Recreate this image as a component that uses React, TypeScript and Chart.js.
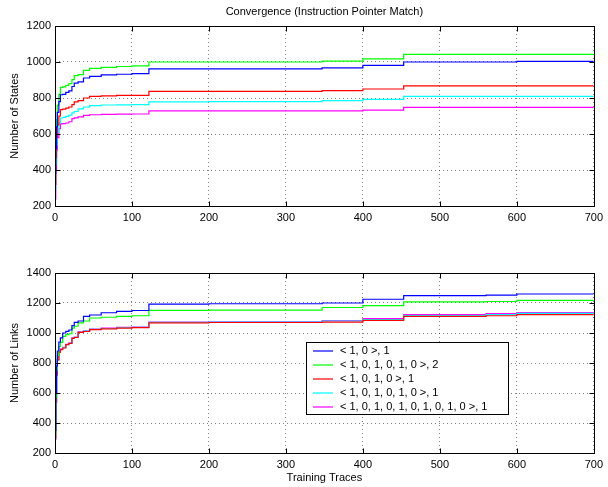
import React, { useEffect, useRef } from "react";
import { Chart, registerables } from "chart.js";
Chart.register(...registerables);

const FONT = "'Liberation Sans', Arial, sans-serif";

const seriesNames = [
  "< 1, 0 >, 1",
  "< 1, 0, 1, 0, 1, 0 >, 2",
  "< 1, 0, 1, 0 >, 1",
  "< 1, 0, 1, 0, 1, 0 >, 1",
  "< 1, 0, 1, 0, 1, 0, 1, 0, 1, 0 >, 1",
];
const seriesColors = ["#0000ff", "#00ff00", "#ff0000", "#00ffff", "#ff00ff"];

const traces = [0, 1, 2, 3, 5, 7, 10, 14, 18, 22, 25, 30, 37, 45, 60, 80, 100, 122, 200, 347, 400, 453, 560, 600, 700];

// Number of States
const statesBlue = [380, 520, 640, 720, 780, 818, 820, 831, 840, 864, 883, 890, 911, 920, 928, 932, 935, 962, 962, 967, 981, 1000, 1000, 1004, 1004];
const statesGreen = [430, 560, 680, 760, 820, 859, 862, 870, 880, 902, 924, 930, 953, 965, 970, 975, 978, 1000, 1000, 1005, 1017, 1042, 1042, 1042, 1042];
const statesRed = [320, 470, 580, 650, 700, 735, 738, 744, 750, 763, 778, 785, 800, 809, 812, 815, 815, 837, 837, 841, 850, 867, 867, 867, 867];
const statesCyan = [290, 430, 540, 610, 660, 689, 692, 698, 705, 717, 725, 740, 750, 758, 761, 762, 763, 779, 780, 785, 792, 809, 809, 809, 809];
const statesMagenta = [240, 400, 510, 580, 630, 656, 658, 661, 668, 685, 690, 695, 703, 707, 709, 710, 711, 729, 729, 729, 733, 748, 748, 748, 748];

// Number of Links
const linksBlue = [350, 600, 780, 880, 940, 967, 1000, 1011, 1020, 1049, 1071, 1080, 1111, 1120, 1135, 1144, 1150, 1193, 1195, 1200, 1225, 1249, 1252, 1260, 1260];
const linksGreen = [330, 570, 750, 850, 910, 938, 978, 989, 995, 1033, 1045, 1067, 1080, 1100, 1105, 1111, 1115, 1151, 1153, 1170, 1182, 1207, 1210, 1218, 1218];
const linksRed = [300, 540, 720, 820, 870, 889, 900, 922, 930, 964, 970, 1004, 1010, 1022, 1028, 1033, 1036, 1068, 1070, 1073, 1084, 1111, 1115, 1122, 1122];
const linksCyan = [300, 540, 720, 820, 870, 890, 902, 923, 931, 965, 971, 1005, 1012, 1024, 1030, 1035, 1038, 1071, 1072, 1080, 1090, 1116, 1122, 1131, 1131];
const linksMagenta = [290, 535, 718, 822, 872, 892, 905, 925, 934, 967, 973, 1007, 1014, 1026, 1032, 1037, 1040, 1072, 1074, 1082, 1096, 1122, 1130, 1136, 1136];

const xTicksMax = 700;

function makeDatasets(values: number[][]) {
  return values.map((v, i) => ({
    label: seriesNames[i],
    data: traces.map((x, j) => ({ x, y: v[j] })),
    borderColor: seriesColors[i],
    backgroundColor: seriesColors[i],
    borderWidth: 1.2,
    pointRadius: 0,
    stepped: true as const,
    tension: 0,
  }));
}

function framePlugin(opts: { title?: string; ylabel: string; xlabel?: string; legend?: boolean }) {
  return {
    id: "frame",
    afterDraw(chart: any) {
      const ctx = chart.ctx;
      const a = chart.chartArea;
      const xs = chart.scales.x;
      const ys = chart.scales.y;
      ctx.save();
      ctx.strokeStyle = "#000";
      ctx.lineWidth = 1;
      ctx.setLineDash([]);
      const L = Math.round(a.left) + 0.5;
      const R = Math.round(a.right) + 0.5;
      const T = Math.round(a.top) + 0.5;
      const B = Math.round(a.bottom) + 0.5;
      ctx.strokeRect(L, T, R - L, B - T);
      const tl = 5;
      ctx.beginPath();
      xs.ticks.forEach((t: any) => {
        const px = Math.round(xs.getPixelForValue(t.value)) + 0.5;
        ctx.moveTo(px, B);
        ctx.lineTo(px, B - tl);
        ctx.moveTo(px, T);
        ctx.lineTo(px, T + tl);
      });
      ys.ticks.forEach((t: any) => {
        const py = Math.round(ys.getPixelForValue(t.value)) + 0.5;
        ctx.moveTo(L, py);
        ctx.lineTo(L + tl, py);
        ctx.moveTo(R, py);
        ctx.lineTo(R - tl, py);
      });
      ctx.stroke();

      ctx.fillStyle = "#000";
      ctx.font = `11px ${FONT}`;
      if (opts.title) {
        ctx.textAlign = "center";
        ctx.textBaseline = "middle";
        ctx.fillText(opts.title, (a.left + a.right) / 2, 12);
      }
      if (opts.xlabel) {
        ctx.textAlign = "center";
        ctx.textBaseline = "middle";
        ctx.fillText(opts.xlabel, (a.left + a.right) / 2, chart.height - 9);
      }
      ctx.save();
      ctx.translate(15, (a.top + a.bottom) / 2);
      ctx.rotate(-Math.PI / 2);
      ctx.textAlign = "center";
      ctx.textBaseline = "middle";
      ctx.fillText(opts.ylabel, 0, 0);
      ctx.restore();

      if (opts.legend) {
        const bx = 306.5, by = 102.5, bw = 202, bh = 72;
        ctx.fillStyle = "#fff";
        ctx.fillRect(bx, by, bw, bh);
        ctx.strokeStyle = "#000";
        ctx.lineWidth = 1;
        ctx.strokeRect(bx, by, bw, bh);
        const rowY = [111, 124.8, 138.6, 152.6, 166.8];
        seriesNames.forEach((name, i) => {
          ctx.strokeStyle = seriesColors[i];
          ctx.lineWidth = 1.2;
          ctx.beginPath();
          ctx.moveTo(313, Math.round(rowY[i]));
          ctx.lineTo(333, Math.round(rowY[i]));
          ctx.stroke();
          ctx.fillStyle = "#000";
          ctx.textAlign = "left";
          ctx.textBaseline = "middle";
          ctx.fillText(name, 340, rowY[i]);
        });
      }
      ctx.restore();
    },
  };
}

function makeConfig(values: number[][], yMax: number, padTop: number, plugin: any) {
  return {
    type: "line" as const,
    data: { datasets: makeDatasets(values) },
    options: {
      responsive: false,
      animation: false as const,
      devicePixelRatio: 1,
      layout: { padding: { top: padTop, right: 11, left: 0, bottom: 0 } },
      plugins: { legend: { display: false }, tooltip: { enabled: false } },
      scales: {
        x: {
          type: "linear" as const,
          min: 0,
          max: xTicksMax,
          ticks: { stepSize: 100, color: "#000", font: { family: FONT, size: 11 }, padding: 5, maxRotation: 0, callback: (v: any) => String(v) },
          grid: { color: "rgba(0,0,0,0.5)", drawTicks: false, lineWidth: 1 },
          border: { display: false, dash: [1, 3] },
          afterFit: (s: any) => { s.height = 34; },
        },
        y: {
          type: "linear" as const,
          min: 200,
          max: yMax,
          ticks: { stepSize: 200, color: "#000", font: { family: FONT, size: 11 }, padding: 4, callback: (v: any) => String(v) },
          grid: { color: "rgba(0,0,0,0.5)", drawTicks: false, lineWidth: 1 },
          border: { display: false, dash: [1, 3] },
          afterFit: (s: any) => { s.width = 55; },
        },
      },
    },
    plugins: [plugin],
  };
}

export default function App() {
  const ref1 = useRef<HTMLCanvasElement>(null);
  const ref2 = useRef<HTMLCanvasElement>(null);
  useEffect(() => {
    const c1 = new Chart(
      ref1.current as HTMLCanvasElement,
      makeConfig(
        [statesBlue, statesGreen, statesRed, statesCyan, statesMagenta],
        1200,
        26,
        framePlugin({ title: "Convergence (Instruction Pointer Match)", ylabel: "Number of States" })
      ) as any
    );
    const c2 = new Chart(
      ref2.current as HTMLCanvasElement,
      makeConfig(
        [linksBlue, linksGreen, linksRed, linksCyan, linksMagenta],
        1400,
        33,
        framePlugin({ ylabel: "Number of Links", xlabel: "Training Traces", legend: true })
      ) as any
    );
    return () => {
      c1.destroy();
      c2.destroy();
    };
  }, []);
  return (
    <div style={{ position: "absolute", left: 0, top: 0, width: 608, height: 487, background: "#fff" }}>
      <canvas ref={ref1} width={608} height={240} style={{ position: "absolute", left: 0, top: 0, display: "block" }} />
      <canvas ref={ref2} width={608} height={247} style={{ position: "absolute", left: 0, top: 240, display: "block" }} />
    </div>
  );
}
